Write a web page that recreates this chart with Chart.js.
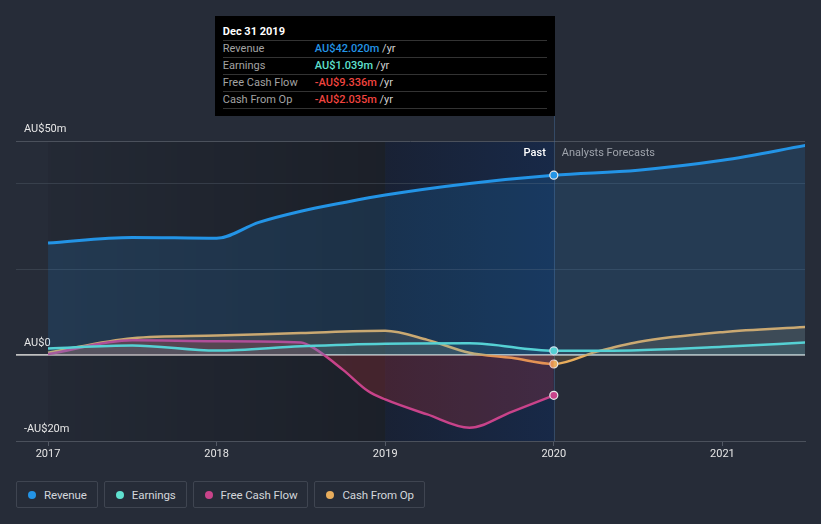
<!DOCTYPE html>
<html>
<head>
<meta charset="utf-8">
<script src="https://cdn.jsdelivr.net/npm/chart.js@4.4.1/dist/chart.umd.min.js"></script>
<style>
html,body{margin:0;padding:0;background:#262c38;width:821px;height:524px;overflow:hidden;font-family:Roboto,"Noto Sans",sans-serif;}
#chartBox{position:absolute;left:0;top:0;width:821px;height:470px;}
#tip{position:absolute;top:16px;left:214px;width:324px;padding:8px 8px 7px 8px;background:#000;color:#fff;font-size:11px;}
#tip .t{height:16px;line-height:16px;font-weight:bold;border-bottom:1px solid #333;}
#tip .r{height:16px;line-height:16px;border-bottom:1px solid #333;position:relative;}
#tip .r .l{position:absolute;left:0;color:#a3a3a3;}
#tip .r .v{position:absolute;left:92px;font-weight:500;}
#tip .r .u{color:#d0d0d0;font-weight:normal;}
.lbl{position:absolute;top:146px;font-size:11px;line-height:14px;white-space:nowrap;}
#past{color:#ffffff;font-weight:500;}
#fore{color:#9ea3ab;}
#legend{position:absolute;left:16px;top:481px;display:flex;gap:6px;}
.lg{border:1px solid #3f4551;border-radius:2px;box-sizing:border-box;height:27px;display:flex;align-items:center;padding:0 10px 0 11px;font-size:11.5px;color:#d3d6db;letter-spacing:-0.1px;}
.lg i{display:inline-block;width:8px;height:8px;border-radius:50%;margin-right:8px;}
</style>
</head>
<body>
<div id="chartBox"><canvas id="c"></canvas></div>
<div id="tip">
  <div class="t">Dec 31 2019</div>
  <div class="r"><span class="l">Revenue</span><span class="v" style="color:#2394e6">AU$42.020m <span class="u">/yr</span></span></div>
  <div class="r"><span class="l">Earnings</span><span class="v" style="color:#5fe0cf">AU$1.039m <span class="u">/yr</span></span></div>
  <div class="r"><span class="l">Free Cash Flow</span><span class="v" style="color:#f0443f">-AU$9.336m <span class="u">/yr</span></span></div>
  <div class="r"><span class="l">Cash From Op</span><span class="v" style="color:#f0443f">-AU$2.035m <span class="u">/yr</span></span></div>
</div>
<span class="lbl" id="past">Past</span>
<span class="lbl" id="fore">Analysts Forecasts</span>
<div id="legend">
  <div class="lg"><i style="background:#2394e6"></i>Revenue</div>
  <div class="lg"><i style="background:#5fe0cf"></i>Earnings</div>
  <div class="lg"><i style="background:#c8438a"></i>Free Cash Flow</div>
  <div class="lg"><i style="background:#e8ad5c"></i>Cash From Op</div>
</div>
<script>
// ---- data (AU$ millions) ----
const revenueYears  = [2017, 2017.5, 2018, 2018.25, 2018.5, 2018.75, 2019, 2019.5, 2020, 2020.5, 2021, 2021.5];
const revenueValues = [26.2, 27.5, 27.3, 31.0, 33.6, 35.6, 37.4, 40.1, 42.02, 43.2, 45.5, 49.0];

const earningsYears  = [2017, 2017.5, 2018, 2018.5, 2019, 2019.5, 2020, 2020.5, 2021, 2021.5];
const earningsValues = [1.6, 2.3, 1.1, 2.1, 2.7, 2.8, 1.039, 1.2, 2.0, 3.0];

const fcfYears  = [2017, 2017.5, 2018, 2018.5, 2018.58, 2018.75, 2018.9, 2019, 2019.25, 2019.5, 2019.75, 2020];
const fcfValues = [0.3, 3.5, 3.3, 3.0, 1.6, -3.4, -8.4, -10.3, -13.8, -16.9, -13.2, -9.336];

const cfoYears  = [2017, 2017.5, 2018, 2018.5, 2019, 2019.25, 2019.5, 2019.75, 2020, 2020.25, 2020.5, 2021, 2021.5];
const cfoValues = [0.6, 4.0, 4.6, 5.2, 5.7, 3.6, 0.6, -0.6, -2.035, 0.8, 3.1, 5.4, 6.6];

const xTickYears = [2017, 2018, 2019, 2020, 2021];
const yTickValues = [-20, 0, 20, 40, 50];
const yTickLabels = {"50": "AU$50m", "0": "AU$0", "-20": "-AU$20m"};

const pastStart = 2017, highlightStart = 2019, pastEnd = 2020;
const xMin = 2016.81, xMax = 2021.49;

const pts = (xs, ys) => xs.map((x, i) => ({x: x, y: ys[i]}));
const dotRadius = ctx => (ctx.raw && ctx.raw.x === pastEnd) ? 4 : 0;

const bgPlugin = {
  id: 'bgShade',
  beforeDraw(chart) {
    const {ctx, chartArea: {top, bottom}, scales: {x}} = chart;
    const a = x.getPixelForValue(pastStart), b = x.getPixelForValue(highlightStart), c = x.getPixelForValue(pastEnd);
    ctx.save();
    let g = ctx.createLinearGradient(a, 0, b, 0);
    g.addColorStop(0, 'rgba(0,0,0,0.05)');
    g.addColorStop(1, 'rgba(0,0,0,0.27)');
    ctx.fillStyle = g;
    ctx.fillRect(a, top, b - a, bottom - top);
    g = ctx.createLinearGradient(b, 0, c, 0);
    g.addColorStop(0, 'rgba(14,26,50,0.55)');
    g.addColorStop(1, 'rgba(12,40,85,0.55)');
    ctx.fillStyle = g;
    ctx.fillRect(b, top, c - b, bottom - top);
    ctx.restore();
  },
  beforeDatasetsDraw(chart) {
    const {ctx, chartArea: {bottom}, scales: {x}} = chart;
    const c = Math.round(x.getPixelForValue(pastEnd)) + 0.5;
    ctx.save();
    ctx.strokeStyle = 'rgba(70,110,160,0.45)';
    ctx.lineWidth = 1;
    ctx.beginPath();
    ctx.moveTo(c, 116);
    ctx.lineTo(c, bottom);
    ctx.stroke();
    ctx.restore();
  },
  afterRender(chart) {
    const c = chart.scales.x.getPixelForValue(pastEnd);
    document.getElementById('past').style.right = (821 - (c - 8)) + 'px';
    document.getElementById('fore').style.left = (c + 8) + 'px';
    document.getElementById('tip').style.left = (c + 1 - 340) + 'px';
  }
};

const line = (label, data, color, fill, width) => ({
  label, data,
  borderColor: color,
  backgroundColor: fill,
  borderWidth: width,
  fill: 'origin',
  tension: 0.4,
  cubicInterpolationMode: 'monotone',
  pointRadius: dotRadius,
  pointHoverRadius: 0,
  pointBackgroundColor: color,
  pointBorderColor: '#e8e8e8',
  pointBorderWidth: 1.2
});

new Chart(document.getElementById('c'), {
  type: 'line',
  data: {
    datasets: [
      line('Revenue', pts(revenueYears, revenueValues), '#2394e6', 'rgba(33,150,243,0.15)', 3),
      line('Earnings', pts(earningsYears, earningsValues), '#5fdccf', 'rgba(95,217,207,0.10)', 2.5),
      line('Free Cash Flow', pts(fcfYears, fcfValues), '#c8438a', 'rgba(215,50,60,0.22)', 2.5),
      line('Cash From Op', pts(cfoYears, cfoValues), '#e8ad5c', 'rgba(232,173,92,0.15)', 2.5)
    ]
  },
  plugins: [bgPlugin],
  options: {
    responsive: true,
    maintainAspectRatio: false,
    animation: false,
    events: [],
    layout: {padding: {left: 16, right: 16, top: 141, bottom: 7}},
    plugins: {legend: {display: false}, tooltip: {enabled: false}},
    scales: {
      x: {
        type: 'linear', min: xMin, max: xMax,
        afterBuildTicks: s => { s.ticks = xTickYears.map(v => ({value: v})); },
        afterFit: s => { s.height = 22; },
        ticks: {callback: v => String(v), color: '#e6e6e6', font: {family: 'Roboto', size: 11}, padding: 2, maxRotation: 0, autoSkip: false},
        grid: {drawOnChartArea: false, drawTicks: true, tickLength: 5, color: '#535965'},
        border: {display: true, color: '#4b515c', width: 1}
      },
      y: {
        type: 'linear', min: -20, max: 50, position: 'left',
        afterBuildTicks: s => { s.ticks = yTickValues.map(v => ({value: v})); },
        afterFit: s => { s.width = 0; },
        ticks: {
          mirror: true, padding: 8, labelOffset: -12,
          callback: v => yTickLabels[String(v)] || '',
          color: '#e6e6e6', font: {family: 'Roboto', size: 11}
        },
        grid: {
          drawTicks: false,
          color: ctx => ctx.tick.value === 0 ? '#bfbfbf' : (ctx.tick.value === 50 || ctx.tick.value === -20 ? '#4b515c' : 'rgba(80,88,102,0.45)'),
          lineWidth: ctx => ctx.tick.value === 0 ? 1.8 : 1
        },
        border: {display: false}
      }
    }
  }
});
</script>
</body>
</html>
